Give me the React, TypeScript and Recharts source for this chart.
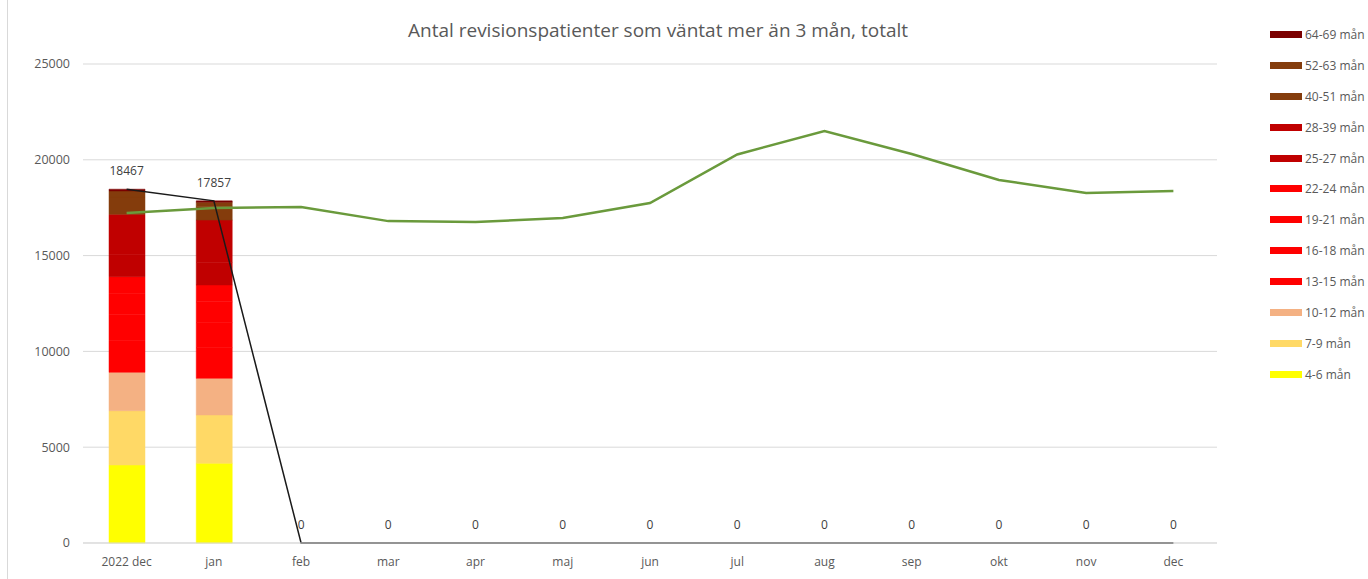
import React from 'react';
import { ComposedChart, Bar, Line, XAxis, YAxis, CartesianGrid, LabelList } from 'recharts';

const months = ['2022 dec', 'jan', 'feb', 'mar', 'apr', 'maj', 'jun', 'jul', 'aug', 'sep', 'okt', 'nov', 'dec'];

// waiting-time bands, values for 2022 dec and jan only (bottom to top)
const m4_6 = [4070, 4160];
const m7_9 = [2835, 2520];
const m10_12 = [2005, 1915];
const m13_15 = [1650, 1600];
const m16_18 = [1350, 1310];
const m19_21 = [1100, 1080];
const m22_24 = [890, 880];
const m25_27 = [1150, 1180];
const m28_39 = [2105, 2210];
const m40_51 = [900, 690];
const m52_63 = [320, 245];
const m64_69 = [92, 67];

const totals = [18467, 17857, 0, 0, 0, 0, 0, 0, 0, 0, 0, 0, 0];
const previous = [17220, 17480, 17540, 16800, 16750, 16960, 17740, 20280, 21500, 20300, 18950, 18270, 18370];

const yTicks = [0, 5000, 10000, 15000, 20000, 25000];

const bands = [
  { key: 'b4_6', name: '4-6 mån', values: m4_6, color: '#ffff00' },
  { key: 'b7_9', name: '7-9 mån', values: m7_9, color: '#ffd966' },
  { key: 'b10_12', name: '10-12 mån', values: m10_12, color: '#f4b183' },
  { key: 'b13_15', name: '13-15 mån', values: m13_15, color: '#ff0000' },
  { key: 'b16_18', name: '16-18 mån', values: m16_18, color: '#ff0000' },
  { key: 'b19_21', name: '19-21 mån', values: m19_21, color: '#ff0000' },
  { key: 'b22_24', name: '22-24 mån', values: m22_24, color: '#ff0000' },
  { key: 'b25_27', name: '25-27 mån', values: m25_27, color: '#c00000' },
  { key: 'b28_39', name: '28-39 mån', values: m28_39, color: '#c00000' },
  { key: 'b40_51', name: '40-51 mån', values: m40_51, color: '#843c0c' },
  { key: 'b52_63', name: '52-63 mån', values: m52_63, color: '#843c0c' },
  { key: 'b64_69', name: '64-69 mån', values: m64_69, color: '#7b0000' },
];

const data = months.map((month, i) => {
  const row: Record<string, any> = { month, total: totals[i], previous: previous[i] };
  bands.forEach((b) => {
    row[b.key] = i < b.values.length ? b.values[i] : null;
  });
  return row;
});

const font = '"Open Sans", "Noto Sans", sans-serif';
const textColor = '#595959';

export default function App() {
  return (
    <div style={{ position: 'absolute', left: 0, top: 0, width: 1368, height: 579, background: '#fff', fontFamily: font, overflow: 'hidden' }}>
      <div style={{ position: 'absolute', left: 7, top: 0, width: 1, height: 579, background: '#d9d9d9' }} />
      <div style={{ position: 'absolute', left: 0, top: 17, width: 1316, textAlign: 'center', fontSize: 19, color: textColor }}>
        Antal revisionspatienter som väntat mer än 3 mån, totalt
      </div>
      <div style={{ position: 'absolute', left: 0, top: 0 }}>
        <ComposedChart width={1368} height={579} data={data} margin={{ top: 64, right: 151, bottom: 6, left: 0 }} barSize={36}>
          <CartesianGrid vertical={false} stroke="#d9d9d9" />
          <XAxis
            dataKey="month"
            axisLine={{ stroke: '#d9d9d9' }}
            tickLine={false}
            tickSize={0}
            tickMargin={14}
            height={30}
            interval={0}
            tick={{ fill: textColor, fontSize: 12, fontFamily: font }}
          />
          <YAxis
            domain={[0, 25000]}
            ticks={yTicks}
            width={83}
            axisLine={false}
            tickLine={false}
            tickSize={0}
            tickMargin={13}
            tick={{ fill: textColor, fontSize: 12.5, fontFamily: font }}
          />
          {bands.map((b) => (
            <Bar key={b.key} dataKey={b.key} name={b.name} stackId="a" fill={b.color} stroke={b.color} strokeWidth={0.5} isAnimationActive={false} />
          ))}
          <Line type="linear" dataKey="previous" stroke="#6a9a3c" strokeWidth={2.5} dot={false} isAnimationActive={false} />
          <Line type="linear" dataKey="total" stroke="#1a1a1a" strokeWidth={1.5} dot={false} isAnimationActive={false}>
            <LabelList dataKey="total" position="top" offset={14} fill="#404040" fontSize={12} fontFamily={font} />
          </Line>
        </ComposedChart>
      </div>
      <div style={{ position: 'absolute', left: 1270, top: 19 }}>
        {[...bands].reverse().map((b) => (
          <div key={b.key} style={{ display: 'flex', alignItems: 'center', height: 30.9 }}>
            <div style={{ width: 32, height: 7, background: b.color }} />
            <span style={{ marginLeft: 3, fontSize: 12, color: textColor, whiteSpace: 'nowrap' }}>{b.name}</span>
          </div>
        ))}
      </div>
    </div>
  );
}
